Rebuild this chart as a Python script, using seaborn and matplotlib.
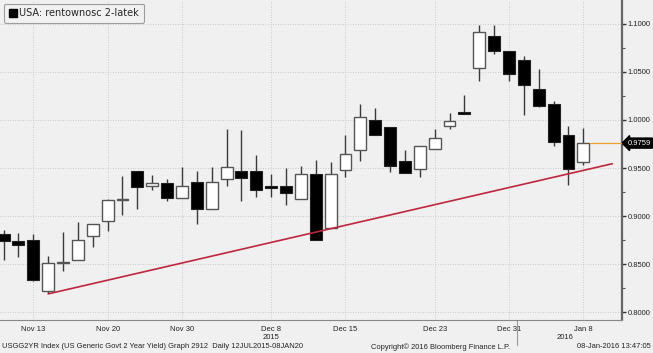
import matplotlib
matplotlib.use("Agg")
import matplotlib.pyplot as plt
import matplotlib.transforms as mtransforms
from matplotlib.lines import Line2D
import seaborn as sns
import numpy as np

# Daily candles, USGG2YR, Nov 11 2015 - Jan 8 2016
dates = ["Nov 11", "Nov 12", "Nov 13", "Nov 16", "Nov 17", "Nov 18", "Nov 19", "Nov 20",
         "Nov 23", "Nov 24", "Nov 25", "Nov 27", "Nov 30", "Dec 1", "Dec 2", "Dec 3",
         "Dec 4", "Dec 7", "Dec 8", "Dec 9", "Dec 10", "Dec 11", "Dec 14", "Dec 15",
         "Dec 16", "Dec 17", "Dec 18", "Dec 21", "Dec 22", "Dec 23", "Dec 24", "Dec 28",
         "Dec 29", "Dec 30", "Dec 31", "Jan 4", "Jan 5", "Jan 6", "Jan 7", "Jan 8"]
opens = [0.882, 0.874, 0.875, 0.8226, 0.8515, 0.855, 0.8797, 0.8955,
         0.9165, 0.9465, 0.9309, 0.9344, 0.9189, 0.9355, 0.9077, 0.9386,
         0.9472, 0.9472, 0.9313, 0.9313, 0.9178, 0.9438, 0.8878, 0.9479,
         0.9683, 1.0000, 0.9925, 0.9571, 0.9492, 0.9697, 0.9938, 1.0085,
         1.0539, 1.0871, 1.0719, 1.0618, 1.0325, 1.0166, 0.9848, 0.9566]
highs = [0.886, 0.883, 0.881, 0.859, 0.884, 0.894, 0.892, 0.918,
         0.9415, 0.9465, 0.9427, 0.9389, 0.9506, 0.9465, 0.951, 0.9905,
         0.9898, 0.9638, 0.9434, 0.950, 0.9517, 0.9579, 0.9565, 0.9845,
         1.0170, 1.0124, 0.9925, 0.969, 0.973, 0.9907, 1.0073, 1.0255,
         1.0990, 1.0990, 1.0719, 1.066, 1.0525, 1.0200, 0.9938, 0.9913]
lows = [0.855, 0.858, 0.833, 0.820, 0.843, 0.855, 0.868, 0.8844,
        0.901, 0.9078, 0.9272, 0.9158, 0.9189, 0.8914, 0.9077, 0.9316,
        0.9153, 0.9199, 0.9199, 0.9115, 0.9178, 0.8753, 0.8878, 0.9407,
        0.9568, 0.9844, 0.9455, 0.945, 0.941, 0.9697, 0.9907, 1.0066,
        1.0407, 1.0685, 1.0400, 1.0055, 1.0135, 0.9729, 0.9325, 0.9527]
closes = [0.874, 0.870, 0.834, 0.8509, 0.8525, 0.875, 0.892, 0.917,
          0.9175, 0.9306, 0.9348, 0.9189, 0.9309, 0.9077, 0.9355, 0.9506,
          0.9392, 0.9272, 0.9293, 0.9237, 0.9438, 0.8753, 0.9441, 0.9641,
          1.0025, 0.9844, 0.9524, 0.945, 0.973, 0.9817, 0.999, 1.0066,
          1.0916, 1.0719, 1.0477, 1.0359, 1.0145, 0.9766, 0.9485, 0.9759]

# support trend line (start / end)
trend_x = [3.0, 40.95]
trend_y = [0.8193, 0.9545]

tick_dates = ["Nov 13", "Nov 20", "Nov 30", "Dec 8", "Dec 15", "Dec 23", "Dec 31", "Jan 8"]
ytick_vals = [0.80, 0.85, 0.90, 0.95, 1.00, 1.05, 1.10]
last_value = closes[-1]

bg = "#f0f0f0"
sns.set_theme(style="white")
plt.rcParams["font.family"] = ["Liberation Sans", "DejaVu Sans"]
small = 5.5

fig = plt.figure(figsize=(6.53, 3.53), dpi=100, facecolor=bg)
ax = fig.add_axes([0.0, 0.0935, 0.9525, 0.9065])
ax.set_facecolor(bg)

x = np.arange(len(dates))
o = np.array(opens)
c = np.array(closes)
up = c >= o

# wicks
ax.vlines(x, lows, highs, color="#3a3a3a", linewidth=1.0, zorder=2)
# bodies
body_h = np.maximum(np.abs(c - o), 0.0012)
body_bot = np.minimum(o, c)
ax.bar(x[~up], body_h[~up], bottom=body_bot[~up], width=0.8,
       color="black", edgecolor="#222222", linewidth=0.8, zorder=3)
ax.bar(x[up], body_h[up], bottom=body_bot[up], width=0.8,
       color="white", edgecolor="#555555", linewidth=1.0, zorder=3)

# trend line
sns.lineplot(x=trend_x, y=trend_y, color="#c0263f", linewidth=1.2, ax=ax, zorder=4)
# last price line
sns.lineplot(x=[39.45, 42.0], y=[last_value, last_value], color="#f0a030",
             linewidth=0.9, ax=ax, zorder=4)

ax.set_xlim(-0.24, 41.6)
ax.set_ylim(0.7922, 1.1245)

# ticks and grid
ax.set_yticks(ytick_vals)
ax.set_yticks(np.arange(0.825, 1.11, 0.05), minor=True)
ax.yaxis.tick_right()
ax.set_yticklabels([f"{v:.4f}" for v in ytick_vals], fontsize=small, color="#222222")
tick_pos = [dates.index(d) for d in tick_dates]
ax.set_xticks(tick_pos)
ax.set_xticklabels(tick_dates, fontsize=small, color="#222222")
ax.set_xticks(x, minor=True)
ax.grid(True, which="major", color="#bdbdbd", linestyle=(0, (1, 2)), linewidth=0.6)
ax.tick_params(axis="y", which="major", direction="out", length=3, width=1,
               color="#333333", pad=0.8)
ax.tick_params(axis="y", which="minor", direction="out", length=2, width=0.8,
               color="#555555")
ax.tick_params(axis="x", which="major", direction="out", length=3, width=0.8,
               color="#444444", pad=1)
ax.tick_params(axis="x", which="minor", direction="out", length=1.5, width=0.6,
               color="#666666")

for side in ["top", "left"]:
    ax.spines[side].set_visible(False)
ax.spines["right"].set_color("#666666")
ax.spines["right"].set_linewidth(1.6)
ax.spines["bottom"].set_color("#888888")
ax.spines["bottom"].set_linewidth(0.8)

# last value tag
ax.annotate(f"{last_value:.4f}", xy=(1.0, last_value),
            xycoords=("axes fraction", "data"), xytext=(4, 0),
            textcoords="offset points", ha="left", va="center",
            fontsize=small, color="white",
            bbox=dict(boxstyle="larrow,pad=0.2", fc="black", ec="black"),
            annotation_clip=False)

# year labels and separator
trans = mtransforms.blended_transform_factory(ax.transData, ax.transAxes)
ax.text(18, -0.045, "2015", transform=trans, ha="center", va="top", fontsize=small,
        color="#222222")
ax.text(37.8, -0.045, "2016", transform=trans, ha="center", va="top", fontsize=small,
        color="#222222")
ax.plot([34.55, 34.55], [0, -0.078], transform=trans, color="#999999",
        linewidth=0.8, clip_on=False)

# legend
handle = Line2D([], [], marker="s", color="black", linestyle="none", markersize=6)
leg = ax.legend([handle], ["USA: rentownosc 2-latek"], loc="upper left",
                bbox_to_anchor=(0.003, 0.995), frameon=True,
                fancybox=True, handlelength=0.8, handletextpad=0.3,
                borderpad=0.5, borderaxespad=0.2,
                prop={"family": ["DejaVu Sans"], "size": 7.0})
leg.get_frame().set_edgecolor("#888888")
leg.get_frame().set_facecolor("#f2f2f2")
leg.get_frame().set_linewidth(0.8)

# footer
fig.text(0.003, 0.017, "USGG2YR Index (US Generic Govt 2 Year Yield) Graph 2912  Daily 12JUL2015-08JAN20",
         fontsize=5.4, color="#222222", va="center", ha="left")
fig.text(0.675, 0.017, "Copyright\u00a9 2016 Bloomberg Finance L.P.", fontsize=5.4,
         color="#222222", va="center", ha="center")
fig.text(0.997, 0.017, "08-Jan-2016 13:47:05", fontsize=5.4, color="#222222",
         va="center", ha="right")

plt.savefig("out.png", dpi=100, facecolor=bg)
